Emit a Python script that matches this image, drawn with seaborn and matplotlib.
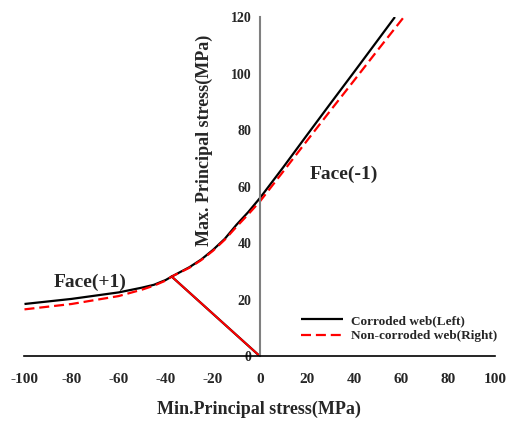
import numpy as np
import pandas as pd
import matplotlib
matplotlib.use("Agg")
import matplotlib.pyplot as plt
import seaborn as sns

corroded_x = [-100, -80, -60, -50, -45, -40, -37.5, -30, -25, -20, -15, -10, -5, 0, 10, 20, 30, 40, 50, 57.3]
corroded_y = [18.5, 20.3, 22.6, 24.3, 25.3, 27.0, 28.2, 31.5, 34.2, 37.6, 41.5, 46.5, 51.0, 56.0, 67.0, 78.3, 89.5, 100.6, 111.8, 120.0]

noncorroded_x = [-100, -80, -60, -50, -45, -40, -37.5, -30, -25, -20, -15, -10, -5, 0, 10, 20, 30, 40, 50, 61.1]
noncorroded_y = [16.6, 18.5, 21.3, 23.6, 25.0, 26.8, 28.2, 31.3, 34.0, 37.3, 41.2, 45.8, 50.2, 54.8, 65.5, 76.3, 87.0, 97.6, 108.3, 120.0]

# tension cut-off branch from the corner down to the origin
cutoff_x = [-37.5, 0]
cutoff_y = [28.2, 0]

x_ticks = [-100, -80, -60, -40, -20, 0, 20, 40, 60, 80, 100]
y_ticks = [0, 20, 40, 60, 80, 100, 120]

sns.set_style("white")
plt.rcParams["font.family"] = ["Liberation Serif", "DejaVu Serif"]
plt.rcParams["font.weight"] = "bold"

df = pd.concat([
    pd.DataFrame({"x": corroded_x, "y": corroded_y, "web": "Corroded web(Left)"}),
    pd.DataFrame({"x": noncorroded_x, "y": noncorroded_y, "web": "Non-corroded web(Right)"}),
])

fig = plt.figure(figsize=(5.07, 4.22), dpi=100)
ax = fig.add_axes([0.0483, 0.1557, 0.929, 0.804])

sns.lineplot(data=df, x="x", y="y", hue="web", style="web", sort=False,
             palette=["black", "red"], dashes=[(1, 0), (4.5, 2.2)],
             linewidth=1.6, ax=ax)
sns.lineplot(x=cutoff_x, y=cutoff_y, color="black", linewidth=1.6, ax=ax)
sns.lineplot(x=cutoff_x, y=cutoff_y, color="red", linewidth=1.4, ax=ax)

ax.set_xlim(-100, 100)
ax.set_ylim(0, 120)
ax.set_xticks(x_ticks)
ax.set_yticks(y_ticks)
ax.set_xticklabels([str(t) for t in x_ticks], fontsize=11, fontweight="bold")
ax.set_yticklabels([str(t) for t in y_ticks], fontsize=12, fontweight="bold")

ax.spines["top"].set_visible(False)
ax.spines["right"].set_visible(False)
ax.spines["left"].set_position(("data", 0))
ax.spines["left"].set_color("#808080")
ax.spines["left"].set_linewidth(1.5)
ax.spines["bottom"].set_color("black")
ax.spines["bottom"].set_linewidth(1.2)
ax.tick_params(axis="x", direction="in", length=4, width=1.2, color="black", pad=12)
ax.tick_params(axis="y", direction="out", length=4, width=1.2, color="black", pad=2)

ax.set_xlabel("Min.Principal stress(MPa)", fontsize=13, fontweight="bold")
ax.xaxis.set_label_coords(0.497, -0.13)
ax.set_ylabel("Max. Principal stress(MPa)", fontsize=13, fontweight="bold")
ax.yaxis.set_label_coords(0.40, 0.637)

ax.text(-72, 26, "Face(+1)", fontsize=14, fontweight="bold", ha="center", va="center")
ax.text(35.4, 64.2, "Face(-1)", fontsize=14, fontweight="bold", ha="center", va="center")

leg = ax.legend(loc="center left", bbox_to_anchor=(0.562, 0.082), frameon=False,
                fontsize=9.5, handlelength=3.2, handletextpad=0.6, labelspacing=0.25)
for t in leg.get_texts():
    t.set_fontweight("bold")

fig.savefig("out.png", dpi=100)
